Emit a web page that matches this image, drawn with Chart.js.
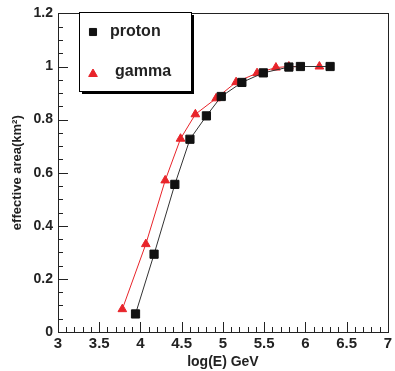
<!DOCTYPE html>
<html>
<head>
<meta charset="utf-8">
<script src="https://cdn.jsdelivr.net/npm/chart.js@4.4.1/dist/chart.umd.min.js"></script>
<style>
html, body { margin: 0; padding: 0; background: #fff; }
canvas { display: block; }
</style>
</head>
<body>
<canvas id="chart" width="395" height="371"></canvas>
<script>
// effective area vs log(E)
const protonLogE = [3.94, 4.165, 4.417, 4.6, 4.8, 4.98, 5.23, 5.49, 5.80, 5.94, 6.30];
const protonArea = [0.068, 0.293, 0.556, 0.726, 0.814, 0.887, 0.94, 0.976, 0.998, 1.0, 1.0];
const gammaLogE = [3.78, 4.065, 4.3, 4.486, 4.666, 4.918, 5.16, 5.414, 5.643, 5.80, 6.17];
const gammaArea = [0.086, 0.331, 0.571, 0.728, 0.82, 0.88, 0.941, 0.975, 0.996, 1.0, 1.0];
const seriesNames = ["proton", "gamma"];
const xTitle = "log(E) GeV";
const yTitle = "effective area(km\u00B2)";

const FONT = "'Liberation Sans', Arial, sans-serif";
const RED = "#e8242a";

function pts(xs, ys) {
  return xs.map((x, i) => ({ x: x, y: ys[i] }));
}

// ROOT style: ticks inside the frame, closed box round the plot, boxed legend
const frameTicks = {
  id: "frameTicks",
  afterDraw(chart) {
    const ctx = chart.ctx, a = chart.chartArea;
    const xs = chart.scales.x, ys = chart.scales.y;
    ctx.save();
    ctx.strokeStyle = "#222";
    ctx.lineWidth = 1;
    ctx.beginPath();
    for (let i = 0; i <= 40; i++) {
      const px = Math.round(xs.getPixelForValue(3 + i * 0.1)) + 0.5;
      const len = i % 5 === 0 ? 10 : 5;
      ctx.moveTo(px, a.bottom);
      ctx.lineTo(px, a.bottom - len);
    }
    for (let i = 0; i <= 24; i++) {
      const py = Math.round(ys.getPixelForValue(i * 0.05)) + 0.5;
      const len = i % 4 === 0 ? 10 : 5;
      ctx.moveTo(a.left, py);
      ctx.lineTo(a.left + len, py);
    }
    ctx.stroke();
    ctx.strokeRect(Math.round(a.left) + 0.5, Math.round(a.top) + 0.5,
      Math.round(a.right - a.left), Math.round(a.bottom - a.top));

    // legend box with shadow
    const bx = 79, by = 12, bw = 112, bh = 79;
    ctx.fillStyle = "#000";
    ctx.fillRect(bx + 3, by + 3, bw, bh);
    ctx.fillStyle = "#fff";
    ctx.fillRect(bx, by, bw, bh);
    ctx.strokeStyle = "#000";
    ctx.strokeRect(bx + 0.5, by + 0.5, bw, bh);

    ctx.font = "bold 16px " + FONT;
    ctx.textBaseline = "middle";
    chart.data.datasets.forEach((ds, i) => {
      const ly = by + 20 + i * 40;
      ctx.fillStyle = ds.pointBackgroundColor;
      ctx.strokeStyle = ds.pointBorderColor;
      Chart.helpers.drawPoint(ctx, {
        pointStyle: ds.pointStyle, radius: 5, rotation: 0, borderWidth: 1
      }, 93, ly + (i ? 2 : 0));
      ctx.fillStyle = "#222";
      ctx.fillText(ds.label, i === 0 ? 110 : 115, ly);
    });
    ctx.restore();
  }
};

new Chart(document.getElementById("chart"), {
  type: "scatter",
  data: {
    datasets: [
      {
        label: seriesNames[0],
        data: pts(protonLogE, protonArea),
        showLine: true,
        borderColor: "#333",
        borderWidth: 1,
        pointStyle: "rect",
        pointRadius: 5.8,
        pointBackgroundColor: "#111",
        pointBorderColor: "#111"
      },
      {
        label: seriesNames[1],
        data: pts(gammaLogE, gammaArea),
        showLine: true,
        borderColor: RED,
        borderWidth: 1,
        pointStyle: "triangle",
        pointRadius: 5,
        pointBackgroundColor: RED,
        pointBorderColor: RED
      }
    ]
  },
  options: {
    responsive: false,
    animation: false,
    devicePixelRatio: 1,
    layout: { padding: { top: 13, right: 4, left: 0, bottom: 0 } },
    plugins: { legend: { display: false }, tooltip: { enabled: false } },
    scales: {
      x: {
        type: "linear",
        min: 3, max: 7,
        afterFit: s => { s.height = 39; },
        grid: { display: false, drawTicks: false },
        border: { display: false },
        ticks: {
          stepSize: 0.5, padding: 3, color: "#222",
          font: { family: FONT, size: 15, weight: "bold" },
          callback: v => String(+v.toFixed(1))
        },
        title: {
          display: true, text: xTitle, color: "#222",
          font: { family: FONT, size: 14, weight: "bold" },
          padding: { top: 0, bottom: 0 }
        }
      },
      y: {
        min: 0, max: 1.2,
        afterFit: s => { s.width = 58; },
        grid: { display: false, drawTicks: false },
        border: { display: false },
        ticks: {
          stepSize: 0.2, padding: 5, color: "#222",
          font: { family: FONT, size: 14, weight: "bold" },
          callback: v => String(+v.toFixed(1))
        },
        title: {
          display: true, text: yTitle, color: "#222",
          font: { family: FONT, size: 13, weight: "bold" },
          padding: { top: 10, bottom: 0 }
        }
      }
    }
  },
  plugins: [frameTicks]
});
</script>
</body>
</html>
